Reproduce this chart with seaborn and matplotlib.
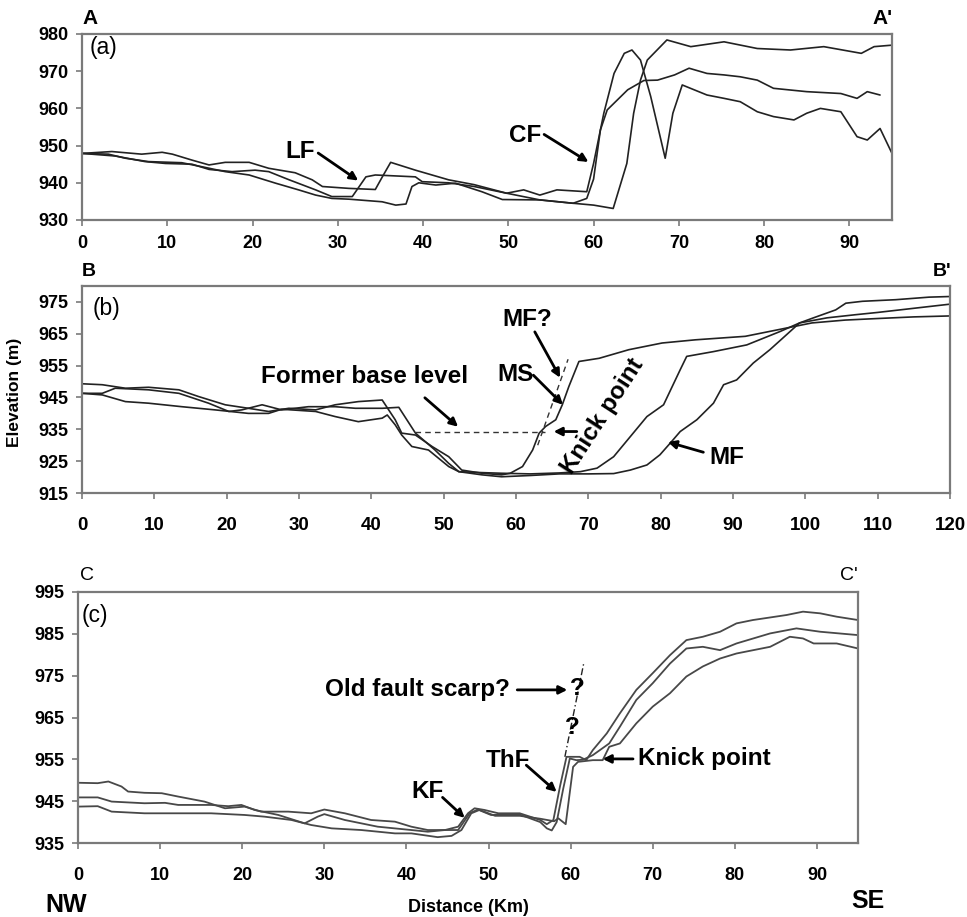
import matplotlib
matplotlib.use("Agg")
import matplotlib.pyplot as plt
import seaborn as sns
import pandas as pd

# ---------------- data ----------------
# Profile A-A'
a1_x = [0, 3.5, 7, 9.4, 10.6, 12.9, 14.9, 16.8, 19.6, 21.9, 25, 27, 28.2, 31.3, 34.4, 35.2, 36.2, 39.1, 43,
        46, 49.8, 51.8, 53.7, 55.7, 59.2, 60, 61.2, 62.4, 63.6, 64.5, 65.5, 66.7, 67.9, 68.4, 69.3, 70.4,
        73.3, 75.3, 77.2, 79.2, 81.1, 83.5, 85, 86.6, 89, 90.9, 92.1, 93.6, 95]
a1_y = [947.9, 948.4, 947.7, 948.2, 947.7, 946.1, 944.8, 945.5, 945.5, 943.9, 942.7, 940.8, 939.0, 938.5, 938.2, 941.5, 945.5, 943.4, 940.8,
        939.5, 937.2, 938.1, 936.7, 938.1, 937.6, 945.2, 958.7, 969.4, 974.8, 975.7, 973.0, 963.2, 951.5, 946.6, 958.7, 966.3,
        963.6, 962.7, 961.8, 959.1, 957.8, 956.9, 958.7, 960.0, 959.1, 952.4, 951.5, 954.6, 947.9]
a2_x = [0, 3.9, 7.4, 9.8, 12.9, 14.9, 17.6, 20.3, 21.9, 24.3, 27.4, 29.3, 31.7, 33.3, 34.4, 39.1, 39.9, 43,
        46, 49.8, 53.7, 57.6, 59.2, 60, 60.8, 61.6, 62.4, 64, 65.9, 67.5, 69.5, 71.2, 73.3, 75.3, 77.2,
        79.2, 81.1, 85, 89, 90.9, 92.1, 93.6]
a2_y = [947.9, 947.2, 945.7, 945.2, 945.0, 943.6, 943.0, 943.4, 943.0, 940.8, 938.1, 936.3, 936.3, 941.6, 942.1, 941.6, 940.3, 940.0,
        939.0, 937.2, 935.4, 934.5, 935.8, 941.0, 954.2, 959.6, 961.4, 965.0, 967.5, 967.6, 969.0, 970.8, 969.4, 969.0, 968.5,
        967.6, 965.4, 964.5, 964.0, 962.7, 964.5, 963.6]
a3_x = [0, 3.1, 5.1, 7.8, 11.7, 14.1, 16.8, 19.6, 22.7, 25.4, 27.4, 29.3, 31.3, 35.2, 36.8, 38, 38.7, 39.5, 41.5,
        43.8, 46.9, 49.3, 53.7, 57.6, 60, 62.3, 63.9, 64.7, 65.5, 66.3, 68.6, 71.4, 75.3, 79.2, 83.1, 87,
        91.4, 92.9, 95]
a3_y = [947.9, 947.7, 946.6, 945.7, 945.4, 944.3, 943.0, 942.1, 939.9, 938.1, 936.7, 935.8, 935.6, 934.9, 934.0, 934.3, 939.0, 940.0, 939.4,
        939.9, 937.6, 935.5, 935.4, 934.5, 934.0, 933.1, 945.2, 958.7, 967.6, 973.0, 978.4, 976.6, 977.9, 976.1, 975.7, 976.6,
        974.8, 976.6, 977.0]

# Profile B-B'
b1_x = [0, 2.8, 6, 9.2, 13.4, 16.1, 19.8, 23, 25.8, 28.6, 32.3, 35, 38.2, 41.5, 42.4, 43.3, 44.2, 46.1, 48.4,
        50.7, 52.5, 55.3, 58, 59.2, 60.9, 62.3, 63.2, 64.1, 65.5, 66.4, 67.3, 68.7, 71.5, 75.6, 80.2, 84.8,
        91.7, 96.3, 100.9, 105.5, 110.1, 115, 120]
b1_y = [949.3, 949.0, 947.9, 948.2, 947.4, 945.3, 942.7, 941.6, 940.6, 941.6, 941.1, 942.7, 943.7, 944.2, 941.1, 938.0, 933.8, 933.2, 929.6,
        926.4, 922.2, 921.2, 920.7, 921.2, 923.3, 928.5, 933.8, 935.9, 938.0, 942.7, 948.4, 956.3, 957.3, 960.0, 962.1, 963.1,
        964.2, 966.3, 968.4, 969.3, 969.8, 970.3, 970.6]
b2_x = [0, 2.8, 4.6, 9.2, 13.4, 17.5, 20.3, 22.1, 24.9, 27.6, 31.3, 35, 37.8, 41.5, 43.8, 46.1, 48.8, 50.7,
        52.1, 55.3, 58, 62, 66, 68.9, 71.2, 73.5, 75.8, 78.1, 80.4, 82.7, 83.6, 87.3, 91.9, 96.5, 99.2,
        103, 107, 110, 115, 120]
b2_y = [946.3, 946.3, 947.9, 947.4, 946.3, 943.2, 940.6, 941.1, 942.7, 941.1, 942.1, 942.1, 941.6, 941.6, 941.9, 933.8, 928.5, 924.3,
        921.7, 921.4, 921.2, 921.0, 921.3, 921.7, 922.8, 926.4, 932.7, 939.0, 942.7, 953.7, 957.9, 959.4, 961.5, 965.7, 968.4,
        970.0, 971.0, 971.7, 973.0, 974.3]
b3_x = [0, 2.8, 6, 9.2, 13.8, 18.4, 23, 25.8, 27.6, 32.3, 35, 38.2, 41.5, 42.2, 43.3, 44.2, 45.6, 47.9, 50.7,
        52.1, 55.3, 58, 62, 66, 70, 73.5, 75.8, 78.1, 79.9, 81.3, 82.7, 85, 87.3, 88.7, 90.5, 92.8, 95.1,
        97.4, 99.2, 101, 104.2, 105.6, 107.9, 112.5, 117.1, 120]
b3_y = [946.3, 945.8, 943.7, 943.2, 942.1, 941.1, 940.0, 940.0, 941.3, 940.6, 939.0, 937.4, 938.5, 939.5, 936.4, 933.2, 929.6, 928.5, 923.3,
        921.7, 920.7, 920.1, 920.5, 921.0, 921.0, 921.1, 922.2, 923.8, 927.0, 930.6, 934.3, 938.0, 943.2, 949.0, 950.5, 955.8, 960.0,
        964.7, 968.4, 969.9, 972.5, 974.6, 975.2, 975.7, 976.5, 976.7]

# Profile C-C'
c1_x = [0, 2.4, 3.7, 5.3, 6.1, 8.1, 10.2, 12.2, 15.4, 17.9, 20.3, 22.3, 25.6, 28.4, 30, 32.5, 35.7, 38.6, 40.6,
        42.6, 44.7, 46.3, 47.5, 48.3, 49.5, 51.2, 53.8, 56.3, 57.1, 57.9, 58.7, 59.5, 61.1, 61.9, 62.7, 64.4,
        66, 68, 70, 72.1, 74.1, 76.1, 78.2, 80.2, 82.2, 86.3, 88.3, 90.4, 92.4, 95]
c1_y = [949.4, 949.3, 949.7, 948.5, 947.3, 947.0, 946.9, 946.1, 944.9, 943.3, 943.7, 942.5, 942.5, 942.1, 943.0, 942.1, 940.5, 940.1, 938.9,
        938.1, 938.1, 938.9, 942.1, 943.3, 942.9, 942.1, 942.1, 940.5, 939.5, 940.5, 948.5, 955.6, 955.6, 954.8, 957.2, 961.2,
        966.0, 971.6, 975.6, 979.9, 983.5, 984.3, 985.5, 987.5, 988.3, 989.5, 990.3, 989.9, 989.1, 988.3]
c2_x = [0, 2.4, 4.1, 8.1, 10.6, 12.2, 16.2, 18.3, 19.9, 21.5, 24.4, 27.6, 29.2, 30, 32.5, 36.5, 40.6, 42.6,
        44.7, 46.3, 47.7, 48.7, 50.3, 53.8, 56.3, 57.1, 57.7, 58.3, 59.1, 59.9, 60.7, 61.5, 62.7, 64.7, 66,
        68, 70, 72.1, 74.1, 76.1, 78.2, 80.2, 84.3, 87.5, 90.4, 95]
c2_y = [945.9, 945.9, 944.9, 944.5, 944.6, 944.1, 944.1, 943.8, 944.1, 942.9, 941.7, 939.7, 941.3, 941.9, 940.5, 938.9, 938.1, 937.7,
        938.1, 938.1, 942.1, 943.0, 941.7, 941.8, 940.0, 938.5, 938.0, 940.0, 948.0, 955.2, 954.8, 954.9, 956.0, 958.8, 962.8,
        969.2, 973.2, 977.9, 981.5, 981.9, 981.1, 982.7, 985.1, 986.3, 985.5, 984.7]
c3_x = [0, 2.4, 4.1, 8.1, 12.2, 16.2, 20.3, 22.7, 26, 28.4, 30.9, 34.5, 38.6, 40.6, 43.8, 45.5, 46.7, 47.9,
        48.9, 50.8, 53.8, 56.3, 58, 58.5, 59.4, 60.3, 60.9, 62.7, 63.9, 64.7, 66, 68, 70, 72.1, 74.1, 76.1,
        78.2, 80.2, 84.3, 86.7, 88.3, 89.6, 92.4, 95]
c3_y = [943.7, 943.8, 942.5, 942.1, 942.1, 942.1, 941.7, 941.3, 940.5, 939.3, 938.5, 938.1, 937.3, 937.3, 936.4, 936.7, 938.1, 942.1,
        942.9, 941.5, 941.5, 940.8, 940.2, 940.9, 939.5, 953.2, 954.4, 954.8, 954.8, 958.0, 958.8, 963.6, 967.6, 970.8, 974.8, 977.2,
        979.1, 980.3, 981.9, 984.3, 983.9, 982.7, 982.7, 981.5]

# axis ranges / ticks
a_xlim, a_ylim = (0, 95), (930, 980)
a_xticks = list(range(0, 100, 10)); a_yticks = list(range(930, 990, 10))
b_xlim, b_ylim = (0, 120), (915, 980)
b_xticks = list(range(0, 130, 10)); b_yticks = list(range(915, 985, 10))
c_xlim, c_ylim = (0, 95), (935, 995)
c_xticks = list(range(0, 100, 10)); c_yticks = list(range(935, 1005, 10))

# guide lines (data units)
b_base_x, b_base_y = [46, 64], [934, 934]
b_scarp_x, b_scarp_y = [63.0, 67.2], [930, 957]
c_scarp_x, c_scarp_y = [59.3, 61.6], [955.6, 978]

# ---------------- figure ----------------
sns.set_style("ticks")
plt.rcParams['font.family'] = ['Liberation Sans', 'DejaVu Sans']
plt.rcParams['text.color'] = 'black'
plt.rcParams['xtick.labelcolor'] = 'black'
plt.rcParams['ytick.labelcolor'] = 'black'

W, H = 967, 917
fig = plt.figure(figsize=(W / 100, H / 100), dpi=100)

def px_axes(l, t, r, b):
    return fig.add_axes([l / W, 1 - b / H, (r - l) / W, (b - t) / H])

axa = px_axes(82, 34, 892, 220)
axb = px_axes(82, 286, 950, 493)
axc = px_axes(78, 592, 858, 843)

def draw_lines(ax, series, color, lw):
    for xs, ys in series:
        df = pd.DataFrame({"x": xs, "y": ys})
        sns.lineplot(data=df, x="x", y="y", ax=ax, color=color, lw=lw,
                     estimator=None, sort=False)

draw_lines(axa, [(a1_x, a1_y), (a2_x, a2_y), (a3_x, a3_y)], "#222222", 1.2)
draw_lines(axb, [(b1_x, b1_y), (b2_x, b2_y), (b3_x, b3_y)], "#222222", 1.2)
draw_lines(axc, [(c1_x, c1_y), (c2_x, c2_y), (c3_x, c3_y)], "#484848", 1.3)

spine_col = "#7a7a7a"
for ax, xl, yl, xt, yt, lab_pad in [(axa, a_xlim, a_ylim, a_xticks, a_yticks, 7),
                                    (axb, b_xlim, b_ylim, b_xticks, b_yticks, 13),
                                    (axc, c_xlim, c_ylim, c_xticks, c_yticks, 13)]:
    ax.set_xlim(*xl); ax.set_ylim(*yl)
    ax.set_xticks(xt); ax.set_yticks(yt)
    ax.set_xlabel(""); ax.set_ylabel("")
    for s in ax.spines.values():
        s.set_color(spine_col); s.set_linewidth(1.6); s.set_visible(True)
    ax.tick_params(axis="both", direction="out", length=4, width=1.2, color=spine_col,
                   labelsize=13, labelcolor="black")
    ax.tick_params(axis="x", pad=lab_pad)
    ax.tick_params(axis="y", pad=6)
    for t in ax.get_xticklabels() + ax.get_yticklabels():
        t.set_fontweight("bold")

axb.tick_params(axis="x", labelsize=13.5)

ARW = dict(arrowstyle="-|>", color="black", lw=2.0, mutation_scale=12, shrinkA=0, shrinkB=0)
def arrow(ax, start, end):
    ax.annotate("", xy=end, xytext=start, arrowprops=ARW)

FS = 17.5
def note(ax, x, y, s, **kw):
    ax.text(x, y, s, fontsize=FS, fontweight="bold", ha="center", va="center", color="black", **kw)

# panel a annotations
axa.text(0.01, 0.93, "(a)", transform=axa.transAxes, fontsize=16.5, va="center", ha="left")
note(axa, 25.6, 948.3, "LF")
arrow(axa, (27.7, 948.0), (32.4, 940.6))
note(axa, 52.0, 952.8, "CF")
arrow(axa, (54.2, 953.0), (59.4, 945.6))

# panel b annotations
axb.text(0.012, 0.89, "(b)", transform=axb.transAxes, fontsize=16.5, va="center", ha="left")
axb.plot(b_base_x, b_base_y, ls=(0, (4, 3)), color="#333333", lw=1.0)
axb.plot(b_scarp_x, b_scarp_y, ls=(0, (4, 3)), color="#333333", lw=1.0)
note(axb, 39.1, 951.5, "Former base level")
arrow(axb, (47.4, 944.9), (52.0, 935.8))
note(axb, 61.5, 969.4, "MF?")
arrow(axb, (62.6, 965.6), (66.1, 951.2))
note(axb, 59.9, 952.1, "MS")
arrow(axb, (62.4, 952.0), (66.5, 942.7))
arrow(axb, (68.4, 934.3), (65.2, 934.3))
note(axb, 71.9, 939.0, "Knick point", rotation=57)
note(axb, 89.2, 926.0, "MF")
arrow(axb, (85.9, 927.8), (81.0, 931.0))

# panel c annotations
axc.text(0.005, 0.905, "(c)", transform=axc.transAxes, fontsize=16.5, va="center", ha="left")
axc.plot(c_scarp_x, c_scarp_y, ls=(0, (5, 2, 1, 2)), color="#222222", lw=1.0)
note(axc, 41.4, 971.6, "Old fault scarp?")
arrow(axc, (53.5, 971.6), (59.6, 971.6))
note(axc, 60.8, 972.0, "?")
note(axc, 60.2, 962.5, "?")
note(axc, 52.4, 954.8, "ThF")
arrow(axc, (54.6, 953.6), (58.3, 947.2))
axc.text(68.2, 955.1, "Knick point", fontsize=FS, fontweight="bold", ha="left", va="center")
arrow(axc, (67.6, 955.1), (63.9, 955.1))
note(axc, 42.6, 947.2, "KF")
arrow(axc, (44.4, 945.9), (47.1, 941.0))

# outer labels (pixel positions converted to figure fraction)
def ftext(x, y, s, size, weight="bold", **kw):
    fig.text(x / W, 1 - y / H, s, fontsize=size, fontweight=weight, va="center", color="black", **kw)

ftext(82, 19, "A", 15, ha="left")
ftext(893, 19, "A'", 15, ha="right")
ftext(82, 272, "B", 14, ha="left")
ftext(951, 272, "B'", 14, ha="right")
ftext(80, 575, "C", 14, weight="normal", ha="left")
ftext(858, 575, "C'", 14, weight="normal", ha="right")
ftext(45, 905, "NW", 18, ha="left")
ftext(885, 901, "SE", 18, ha="right")
ftext(468, 907, "Distance (Km)", 13, ha="center")
fig.text(15 / W, 1 - 392 / H, "Elevation (m)", fontsize=12.5, fontweight="bold",
         rotation=90, ha="center", va="center", color="black")

fig.savefig("out.png", dpi=100)
